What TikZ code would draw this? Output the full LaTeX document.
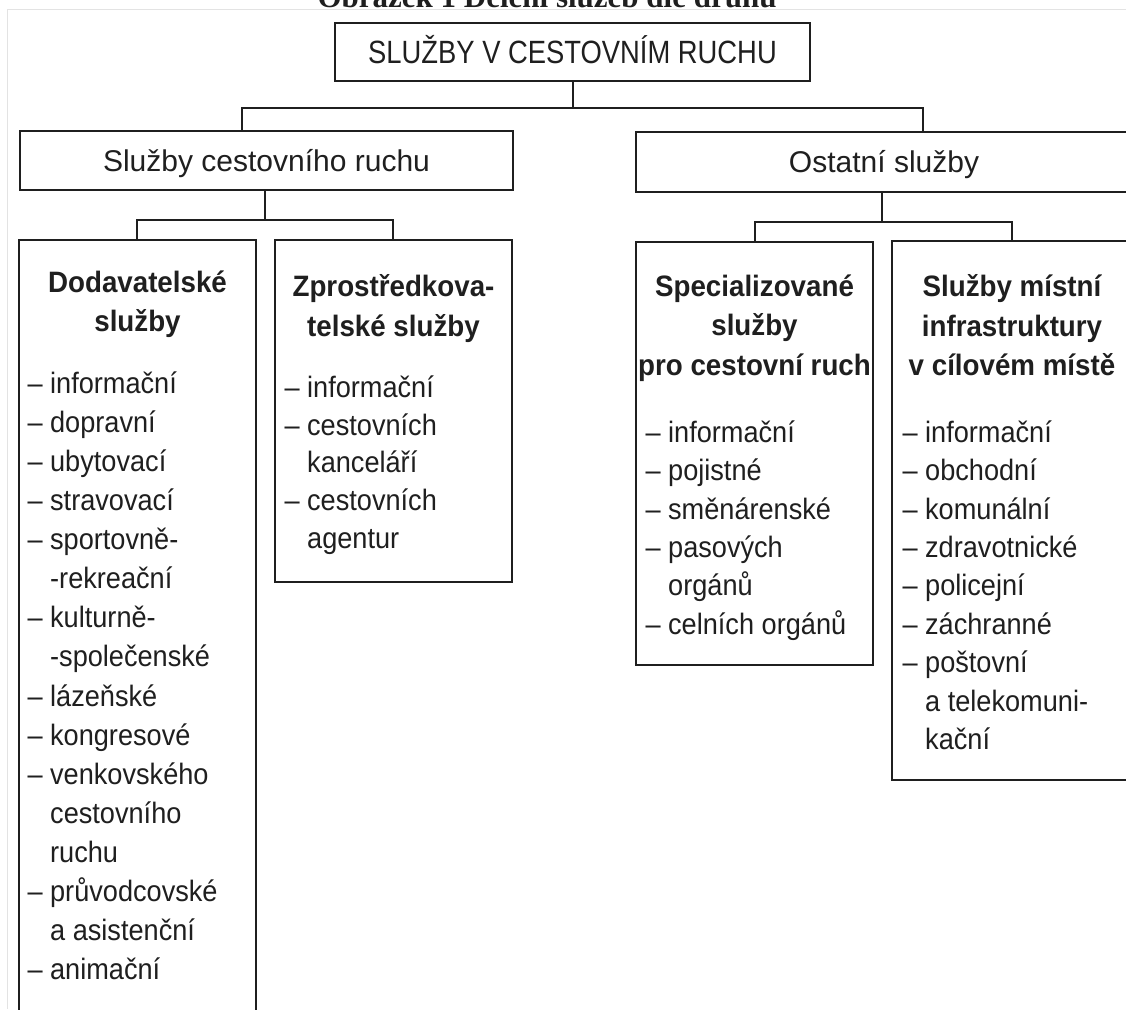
\documentclass[tikz,border=0pt]{standalone}
\usepackage{fontspec}
\setmainfont{Liberation Sans}
\newfontfamily\narrowsans{Liberation Sans}[FakeStretch=0.85]
\newfontfamily\condsans{Liberation Sans}[FakeStretch=0.92]
\newfontfamily\headsans{Liberation Sans}[FakeStretch=0.94]
\newfontfamily\captionserif{Liberation Serif}
\usetikzlibrary{positioning}

\definecolor{ink}{HTML}{1F1F1F}
\definecolor{scanline}{HTML}{E3E3E3}

\newcommand\firststrut{\rule{0pt}{25pt}}
\newcommand\cont{\hphantom{–\ }}

\tikzset{
  box/.style={draw=ink, line width=1.3pt, inner sep=0pt, text=ink},
  lvlone/.style={box, font=\narrowsans\fontsize{32.2}{34}\selectfont, text height=23pt, text depth=0pt},
  lvltwo/.style={box, font=\fontsize{30}{32}\selectfont, text height=21.5pt, text depth=0pt},
  head/.style={inner sep=0pt, align=center, text=ink, font=\headsans\bfseries\fontsize{29.5}{39.5}\selectfont, execute at begin node=\firststrut},
  items/.style={inner sep=0pt, align=left, text=ink, font=\condsans\fontsize{29.5}{38.4}\selectfont, execute at begin node=\firststrut},
  link/.style={draw=ink, line width=1.1pt},
}

\begin{document}
\begin{tikzpicture}[x=1pt, y=-1pt]
\useasboundingbox (0,0) rectangle (1126,1009);
\fill[white] (0,0) rectangle (1126,1009);
% scan frame and cut-off caption
\draw[scanline, line width=1pt] (7,1009) -- (7,9) -- (1126,9);
\node[anchor=base, inner sep=0pt, text=ink, font=\captionserif\bfseries\fontsize{31}{31}\selectfont] (caption) at (547,7) {Obrázek 1 Dělení služeb dle druhů};

% boxes
\node[lvlone, minimum width=475pt, minimum height=58pt] (top) at (572.5,52) {SLUŽBY V CESTOVNÍM RUCHU};
\node[lvltwo, minimum width=493pt, minimum height=59pt] (cr) at (266.5,160.5) {Služby cestovního ruchu};
\node[lvltwo, minimum width=496pt, minimum height=60pt] (os) at (884,162) {Ostatní služby};
\node[box, minimum width=237pt, minimum height=800pt] (dod) at (137.5,640) {};
\node[box, minimum width=237pt, minimum height=342pt] (zpr) at (393.5,411) {};
\node[box, minimum width=237pt, minimum height=423pt] (spec) at (754.5,453.5) {};
\node[box, minimum width=240pt, minimum height=539pt] (mis) at (1012,510.5) {};

% connectors
\coordinate (jtop) at (573,108);
\coordinate (jcr) at (242,108);
\coordinate (jos) at (923,108);
\draw[link] (top.south -| jtop) -- (jtop);
\draw[link] (jcr |- cr.north) -- (jcr) -- (jos) -- (jos |- os.north);

\coordinate (jleft) at (265,220);
\coordinate (jdod) at (137,220);
\coordinate (jzpr) at (393,220);
\draw[link] (cr.south -| jleft) -- (jleft);
\draw[link] (jdod |- dod.north) -- (jdod) -- (jzpr) -- (jzpr |- zpr.north);

\coordinate (jright) at (882,222);
\coordinate (jspec) at (755,222);
\coordinate (jmis) at (1012,222);
\draw[link] (os.south -| jright) -- (jright);
\draw[link] (jspec |- spec.north) -- (jspec) -- (jmis) -- (jmis |- mis.north);

% headings
\node[head, below=31pt of dod.north] (dodhead) {Dodavatelské\\služby};
\node[head, below=35pt of zpr.north] (zprhead) {Zprostředkova-\\telské služby};
\node[head, below=33pt of spec.north] (spechead) {Specializované\\služby\\pro cestovní ruch};
\node[head, below=34pt of mis.north] (mishead) {Služby místní\\infrastruktury\\v cílovém místě};

% lists
\node[items, font=\condsans\fontsize{29.5}{39.1}\selectfont, below right=132pt and 9pt of dod.north west] (doditems) {– informační\\– dopravní\\– ubytovací\\– stravovací\\– sportovně-\\\cont-rekreační\\– kulturně-\\\cont-společenské\\– lázeňské\\– kongresové\\– venkovského\\\cont cestovního\\\cont ruchu\\– průvodcovské\\\cont a asistenční\\– animační};
\node[items, font=\condsans\fontsize{29.5}{37.8}\selectfont, below right=136pt and 10pt of zpr.north west] (zpritems) {– informační\\– cestovních\\\cont kanceláří\\– cestovních\\\cont agentur};
\node[items, below right=179pt and 10pt of spec.north west] (specitems) {– informační\\– pojistné\\– směnárenské\\– pasových\\\cont orgánů\\– celních orgánů};
\node[items, below right=180pt and 11pt of mis.north west] (misitems) {– informační\\– obchodní\\– komunální\\– zdravotnické\\– policejní\\– záchranné\\– poštovní\\\cont a telekomuni-\\\cont kační};
\end{tikzpicture}
\end{document}
